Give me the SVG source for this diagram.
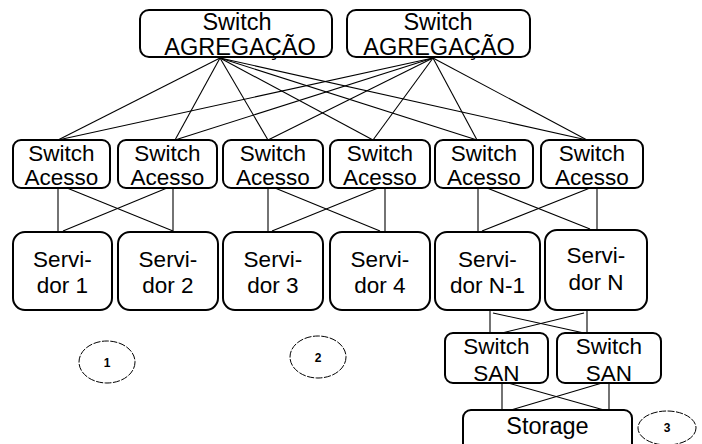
<svg xmlns="http://www.w3.org/2000/svg" width="702" height="444" viewBox="0 0 702 444">
  <style>
    .box { fill: #ffffff; stroke: #000000; stroke-width: 2; }
    .lbl { font-family: "Liberation Sans", Arial, sans-serif; font-size: 22.5px; fill: #000000; text-anchor: middle; }
    .big { font-size: 23.5px; }
    .link { stroke: #000000; stroke-width: 1.1; fill: none; }
    .tag { fill: none; stroke: #000000; stroke-width: 1; stroke-dasharray: 7 1.5; }
    .num { font-family: "Liberation Sans", Arial, sans-serif; font-size: 12px; font-weight: bold; fill: #000000; text-anchor: middle; }
  </style>
  <rect width="702" height="444" fill="#ffffff"/>

  <!-- connectors -->
  <g id="connectors">
    <!-- aggregation to access -->
    <line class="link" x1="220" y1="58" x2="58" y2="140"/>
    <line class="link" x1="220" y1="58" x2="175" y2="140"/>
    <line class="link" x1="220" y1="58" x2="268" y2="140"/>
    <line class="link" x1="220" y1="58" x2="373" y2="140"/>
    <line class="link" x1="220" y1="58" x2="477" y2="140"/>
    <line class="link" x1="220" y1="58" x2="587" y2="140"/>
    <line class="link" x1="433" y1="58" x2="58" y2="140"/>
    <line class="link" x1="433" y1="58" x2="175" y2="140"/>
    <line class="link" x1="433" y1="58" x2="268" y2="140"/>
    <line class="link" x1="433" y1="58" x2="373" y2="140"/>
    <line class="link" x1="433" y1="58" x2="477" y2="140"/>
    <line class="link" x1="433" y1="58" x2="587" y2="140"/>
    <!-- access to servers -->
    <line class="link" x1="58" y1="188" x2="58" y2="232"/>
    <line class="link" x1="173" y1="188" x2="173" y2="232"/>
    <line class="link" x1="67" y1="188" x2="173" y2="231"/>
    <line class="link" x1="167" y1="188" x2="63" y2="231"/>
    <line class="link" x1="268" y1="188" x2="268" y2="232"/>
    <line class="link" x1="385" y1="188" x2="385" y2="232"/>
    <line class="link" x1="275" y1="188" x2="380" y2="231"/>
    <line class="link" x1="378" y1="188" x2="272" y2="231"/>
    <line class="link" x1="478" y1="188" x2="478" y2="232"/>
    <line class="link" x1="597" y1="188" x2="597" y2="230"/>
    <line class="link" x1="487" y1="188" x2="590" y2="229"/>
    <line class="link" x1="590" y1="188" x2="482" y2="231"/>
    <!-- servers to SAN -->
    <line class="link" x1="490" y1="310" x2="490" y2="333"/>
    <line class="link" x1="587" y1="310" x2="587" y2="333"/>
    <line class="link" x1="493" y1="313" x2="584" y2="333"/>
    <line class="link" x1="584" y1="313" x2="502" y2="333"/>
    <!-- SAN to storage -->
    <line class="link" x1="502" y1="383" x2="502" y2="410"/>
    <line class="link" x1="609" y1="383" x2="609" y2="410"/>
    <line class="link" x1="508" y1="383" x2="604" y2="410"/>
    <line class="link" x1="602" y1="383" x2="511" y2="410"/>
  </g>

  <!-- aggregation switches -->
  <g id="agg1">
    <rect class="box" x="140" y="10" width="192" height="47" rx="9"/>
    <text class="lbl big" x="237" y="30">Switch</text>
    <text class="lbl big" x="240" y="55">AGREGAÇÃO</text>
  </g>
  <g id="agg2">
    <rect class="box" x="347" y="10" width="183" height="47" rx="9"/>
    <text class="lbl big" x="438" y="30">Switch</text>
    <text class="lbl big" x="439" y="55">AGREGAÇÃO</text>
  </g>

  <!-- access switches -->
  <g id="acc1">
    <rect class="box" x="13" y="140" width="97" height="48" rx="8"/>
    <text class="lbl" x="61.5" y="161">Switch</text>
    <text class="lbl" x="61.5" y="185">Acesso</text>
  </g>
  <g id="acc2">
    <rect class="box" x="118" y="140" width="99" height="48" rx="8"/>
    <text class="lbl" x="167.5" y="161">Switch</text>
    <text class="lbl" x="167.5" y="185">Acesso</text>
  </g>
  <g id="acc3">
    <rect class="box" x="223" y="140" width="100" height="48" rx="8"/>
    <text class="lbl" x="273" y="161">Switch</text>
    <text class="lbl" x="273" y="185">Acesso</text>
  </g>
  <g id="acc4">
    <rect class="box" x="330" y="140" width="100" height="48" rx="8"/>
    <text class="lbl" x="380" y="161">Switch</text>
    <text class="lbl" x="380" y="185">Acesso</text>
  </g>
  <g id="acc5">
    <rect class="box" x="435" y="140" width="98" height="48" rx="8"/>
    <text class="lbl" x="484" y="161">Switch</text>
    <text class="lbl" x="484" y="185">Acesso</text>
  </g>
  <g id="acc6">
    <rect class="box" x="541" y="140" width="102" height="48" rx="8"/>
    <text class="lbl" x="592" y="161">Switch</text>
    <text class="lbl" x="592" y="185">Acesso</text>
  </g>

  <!-- servers -->
  <g id="srv1">
    <rect class="box" x="13" y="232" width="99" height="78" rx="12"/>
    <text class="lbl" x="62.5" y="267">Servi-</text>
    <text class="lbl" x="62.5" y="293">dor 1</text>
  </g>
  <g id="srv2">
    <rect class="box" x="118" y="232" width="100" height="78" rx="12"/>
    <text class="lbl" x="168" y="267">Servi-</text>
    <text class="lbl" x="168" y="293">dor 2</text>
  </g>
  <g id="srv3">
    <rect class="box" x="223" y="232" width="100" height="78" rx="12"/>
    <text class="lbl" x="273" y="267">Servi-</text>
    <text class="lbl" x="273" y="293">dor 3</text>
  </g>
  <g id="srv4">
    <rect class="box" x="330" y="232" width="100" height="78" rx="12"/>
    <text class="lbl" x="380" y="267">Servi-</text>
    <text class="lbl" x="380" y="293">dor 4</text>
  </g>
  <g id="srvN1">
    <rect class="box" x="435" y="232" width="105" height="78" rx="12"/>
    <text class="lbl" x="487.5" y="267">Servi-</text>
    <text class="lbl" x="487.5" y="293">dor N-1</text>
  </g>
  <g id="srvN">
    <rect class="box" x="545" y="230" width="102" height="80" rx="12"/>
    <text class="lbl" x="596" y="263">Servi-</text>
    <text class="lbl" x="596" y="290">dor N</text>
  </g>

  <!-- SAN switches -->
  <g id="san1">
    <rect class="box" x="445" y="333" width="103" height="50" rx="8"/>
    <text class="lbl" x="496.5" y="354">Switch</text>
    <text class="lbl" x="496.5" y="381">SAN</text>
  </g>
  <g id="san2">
    <rect class="box" x="557" y="333" width="104" height="50" rx="8"/>
    <text class="lbl" x="609" y="354">Switch</text>
    <text class="lbl" x="609" y="381">SAN</text>
  </g>

  <!-- storage -->
  <g id="storage">
    <rect class="box" x="463" y="410" width="169" height="44" rx="8"/>
    <text class="lbl big" x="547.5" y="434">Storage</text>
  </g>

  <!-- zone tags -->
  <g id="tag1">
    <ellipse class="tag" cx="107" cy="362" rx="28" ry="21"/>
    <text class="num" x="107" y="367">1</text>
  </g>
  <g id="tag2">
    <ellipse class="tag" cx="318" cy="357" rx="28" ry="21"/>
    <text class="num" x="318" y="362">2</text>
  </g>
  <g id="tag3">
    <ellipse class="tag" cx="667" cy="428" rx="29" ry="17"/>
    <text class="num" x="667" y="432">3</text>
  </g>
</svg>
